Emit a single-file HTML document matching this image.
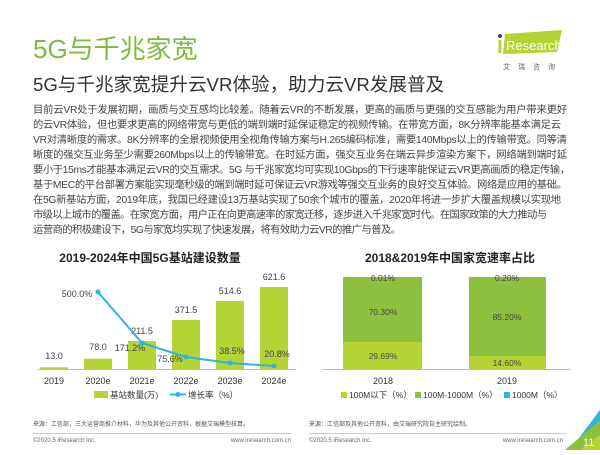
<!DOCTYPE html>
<html><head><meta charset="utf-8"><style>
body{margin:0;width:600px;height:450px;overflow:hidden;background:#fff;font-family:"Liberation Sans","Noto Sans CJK SC",sans-serif;}
</style></head><body>
<svg width="600" height="450" viewBox="0 0 600 450" xmlns="http://www.w3.org/2000/svg" font-family="Liberation Sans, Noto Sans CJK SC, sans-serif">
<text x="33" y="58" font-size="26" fill="#7dbb3c">5G与千兆家宽</text>
<text x="33" y="91" font-size="18.6" fill="#333">5G与千兆家宽提升云VR体验，助力云VR发展普及</text>
<!-- logo -->
<polygon points="505,34 562,30 557,52 503,54" fill="#b4d334"/>
<circle cx="500" cy="36" r="2" fill="#1f4e9c"/>
<rect x="498.5" y="40" width="3" height="13" fill="#b4d334"/>
<text x="506" y="50" font-size="13" fill="#fff">Research</text>
<text x="503" y="69" font-size="7" fill="#666" letter-spacing="8">艾瑞咨询</text>
<g font-size="10.3" fill="#444">
<text x="33" y="113" textLength="534">目前云VR处于发展初期，画质与交互感均比较差。随着云VR的不断发展，更高的画质与更强的交互感能为用户带来更好</text>
<text x="33" y="128" textLength="528">的云VR体验，但也要求更高的网络带宽与更低的端到端时延保证稳定的视频传输。在带宽方面，8K分辨率能基本满足云</text>
<text x="33" y="143" textLength="534">VR对清晰度的需求。8K分辨率的全景视频使用全视角传输方案与H.265编码标准，需要140Mbps以上的传输带宽。同等清</text>
<text x="33" y="158" textLength="534">晰度的强交互业务至少需要260Mbps以上的传输带宽。在时延方面，强交互业务在端云异步渲染方案下，网络端到端时延</text>
<text x="33" y="173" textLength="537">要小于15ms才能基本满足云VR的交互需求。5G 与千兆家宽均可实现10Gbps的下行速率能保证云VR更高画质的稳定传输，</text>
<text x="33" y="188" textLength="534">基于MEC的平台部署方案能实现毫秒级的端到端时延可保证云VR游戏等强交互业务的良好交互体验。网络是应用的基础。</text>
<text x="33" y="203" textLength="528">在5G新基站方面，2019年底，我国已经建设13万基站实现了50余个城市的覆盖，2020年将进一步扩大覆盖规模以实现地</text>
<text x="33" y="218" textLength="514">市级以上城市的覆盖。在家宽方面，用户正在向更高速率的家宽迁移，逐步进入千兆家宽时代。在国家政策的大力推动与</text>
<text x="33" y="233" textLength="368">运营商的积极建设下，5G与家宽均实现了快速发展，将有效助力云VR的推广与普及。</text>
</g>
<!-- left chart -->
<text x="150" y="262" font-size="12" font-weight="bold" fill="#222" text-anchor="middle">2019-2024年中国5G基站建设数量</text>
<g fill="#b4d334">
<rect x="40" y="367.3" width="28" height="1.7"/>
<rect x="84" y="358.7" width="28" height="10.3"/>
<rect x="128" y="341" width="28" height="28"/>
<rect x="172" y="320" width="28" height="49"/>
<rect x="216" y="301" width="28" height="68"/>
<rect x="260" y="287" width="28" height="82"/>
</g>
<line x1="38" y1="369.5" x2="296" y2="369.5" stroke="#bbb" stroke-width="1"/>
<g font-size="9" fill="#444" text-anchor="middle">
<text x="54" y="359">13.0</text><text x="98" y="350">78.0</text><text x="142" y="334">211.5</text>
<text x="186" y="313">371.5</text><text x="230" y="294">514.6</text><text x="274" y="280">621.6</text>
<text x="77" y="297">500.0%</text><text x="130" y="351">171.2%</text><text x="170" y="362">75.6%</text>
<text x="232" y="354">38.5%</text><text x="277" y="357">20.8%</text>
</g>
<polyline points="98,292 142,343 186,357 230,363 274,366" fill="none" stroke="#2bb5e2" stroke-width="2"/>
<g fill="#2bb5e2"><circle cx="98" cy="292" r="2.5"/><circle cx="142" cy="343" r="2.5"/><circle cx="186" cy="357" r="2.5"/><circle cx="230" cy="363" r="2.5"/><circle cx="274" cy="366" r="2.5"/></g>
<g font-size="9" fill="#333" text-anchor="middle">
<text x="54" y="384">2019</text><text x="98" y="384">2020e</text><text x="142" y="384">2021e</text>
<text x="186" y="384">2022e</text><text x="230" y="384">2023e</text><text x="274" y="384">2024e</text>
</g>
<rect x="94" y="391" width="14" height="7" fill="#b4d334"/>
<text x="110" y="398" font-size="8.5" fill="#333">基站数量(万)</text>
<line x1="170" y1="394.5" x2="186" y2="394.5" stroke="#2bb5e2" stroke-width="2"/><circle cx="178" cy="394.5" r="2.5" fill="#2bb5e2"/>
<text x="188" y="398" font-size="8.5" fill="#333">增长率（%）</text>
<text x="33" y="426" font-size="6" fill="#555">来源：工信部，三大运营商推介材料，华为及其他公开资料，根据艾瑞模型核算。</text>
<line x1="33" y1="433.5" x2="291" y2="433.5" stroke="#999" stroke-width="0.5"/>
<text x="33" y="442" font-size="6" fill="#666">©2020.5 iResearch Inc.</text>
<text x="291" y="442" font-size="6" fill="#666" text-anchor="end">www.iresearch.com.cn</text>
<!-- right chart -->
<text x="450" y="262" font-size="12" font-weight="bold" fill="#222" text-anchor="middle">2018&amp;2019年中国家宽速率占比</text>
<rect x="343" y="277" width="79" height="65" fill="#8dc03f"/>
<rect x="343" y="342" width="79" height="27" fill="#b4d334"/>
<rect x="469" y="277" width="77" height="79" fill="#8dc03f"/>
<rect x="469" y="356" width="77" height="13" fill="#b4d334"/>
<line x1="322" y1="369.5" x2="570" y2="369.5" stroke="#bbb" stroke-width="1"/>
<g font-size="8.5" fill="#444" text-anchor="middle">
<text x="383" y="281">0.01%</text><text x="383" y="315">70.30%</text><text x="383" y="359">29.69%</text>
<text x="507" y="281">0.20%</text><text x="507" y="320">85.20%</text><text x="507" y="366">14.60%</text>
</g>
<g font-size="9" fill="#333" text-anchor="middle"><text x="383" y="384">2018</text><text x="507" y="384">2019</text></g>
<g font-size="8.5" fill="#333">
<rect x="341" y="392" width="6" height="6" fill="#b4d334"/><text x="349" y="398">100M以下（%）</text>
<rect x="415" y="392" width="6" height="6" fill="#8dc03f"/><text x="423" y="398">100M-1000M（%）</text>
<rect x="504" y="392" width="6" height="6" fill="#2bb5e2"/><text x="512" y="398">1000M（%）</text>
</g>
<text x="309" y="426" font-size="6" fill="#555">来源：工信部及其他公开资料，由艾瑞研究院自主研究绘制。</text>
<line x1="309" y1="433.5" x2="566" y2="433.5" stroke="#999" stroke-width="0.5"/>
<text x="309" y="442" font-size="6" fill="#666">©2020.5 iResearch Inc.</text>
<text x="563" y="442" font-size="6" fill="#666" text-anchor="end">www.iresearch.com.cn</text>
<!-- corner -->
<polygon points="600,410 600,450 570,450" fill="#2bb5e2"/>
<polygon points="600,420 600,450 565,450" fill="#8dc03f"/>
<polygon points="600,435 600,450 580,450" fill="#b4d334"/>
<text x="583" y="446" font-size="11" fill="#fff">11</text>
</svg>
</body></html>
